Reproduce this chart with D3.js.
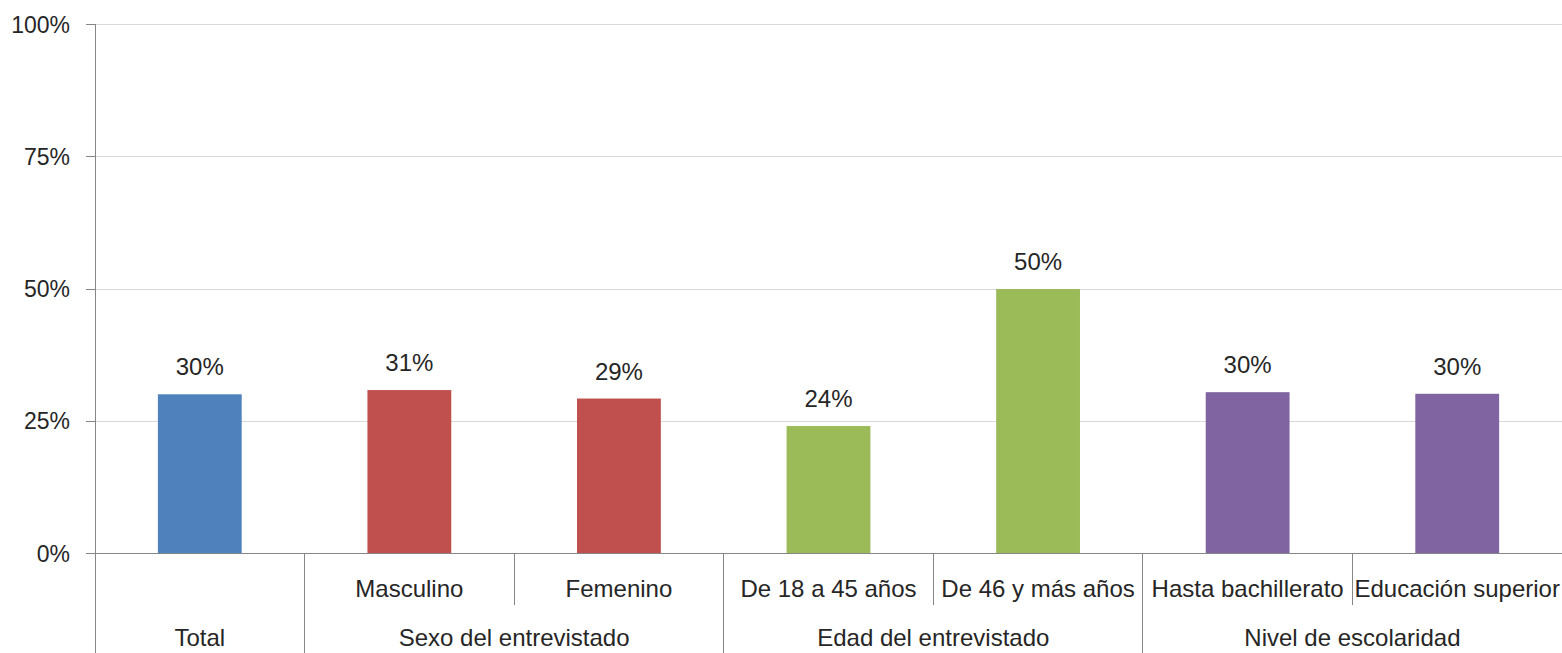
<!DOCTYPE html>
<html lang="es">
<head>
  <meta charset="UTF-8">
  <title>Gráfico de barras por grupo</title>
  <style>
    body { margin: 0; background: #fff; }
    svg text { font-family: "Liberation Sans", Arial, sans-serif; fill: #262626; }
    .axis path { display: none; }
    .axis line { stroke: #868686; shape-rendering: crispEdges; }
    .axis text { font-size: 23px; }
    .grid line { stroke: #d9d9d9; shape-rendering: crispEdges; }
    .grid path { display: none; }
    .sep { stroke: #868686; shape-rendering: crispEdges; }
    .lbl { font-size: 24px; text-anchor: middle; }
  </style>
</head>
<body>
  <div id="chart"></div>
  <script src="https://d3js.org/d3.v7.min.js"></script>
  <script>
    // datos
    var categories = ['Total', 'Masculino', 'Femenino', 'De 18 a 45 años', 'De 46 y más años', 'Hasta bachillerato', 'Educación superior']
    var subLabels = ['', 'Masculino', 'Femenino', 'De 18 a 45 años', 'De 46 y más años', 'Hasta bachillerato', 'Educación superior']
    var values = [0.300, 0.308, 0.292, 0.240, 0.499, 0.304, 0.301]
    var valueLabels = ['30%', '31%', '29%', '24%', '50%', '30%', '30%']
    var groups = ['Total', 'Sexo del entrevistado', 'Edad del entrevistado', 'Nivel de escolaridad']
    var groupSizes = [1, 2, 2, 2]
    var groupColors = ['#4f81bd', '#c0504d', '#9bbb59', '#8064a2']
    var yTicks = [0, 0.25, 0.5, 0.75, 1]

    var width = 1562
    var height = 653
    var plot = {left: 95, right: 1562, top: 24, bottom: 553}

    // a qué grupo pertenece cada categoría
    var groupIndex = []
    groupSizes.forEach(function (n, g) {
      for (var k = 0; k < n; k++) groupIndex.push(g)
    })

    var svg = d3.select('#chart').append('svg')
      .attr('width', width)
      .attr('height', height)

    var x = d3.scaleBand()
      .domain(categories)
      .range([plot.left, plot.right])
      .paddingInner(0.6)
      .paddingOuter(0.3)
    var xEdge = d3.scaleLinear()
      .domain([0, categories.length])
      .range([plot.left, plot.right])
    var y = d3.scaleLinear()
      .domain([0, 1])
      .range([plot.bottom, plot.top])

    // líneas de cuadrícula
    svg.append('g')
      .attr('class', 'grid')
      .attr('transform', 'translate(' + plot.left + ',0)')
      .call(d3.axisLeft(y).tickValues(yTicks).tickSize(-(plot.right - plot.left)).tickFormat(''))

    // barras
    svg.selectAll('.bar')
      .data(values)
      .enter()
      .append('rect')
      .attr('class', 'bar')
      .attr('x', function (d, i) { return x(categories[i]) })
      .attr('width', x.bandwidth())
      .attr('y', function (d) { return y(d) })
      .attr('height', function (d) { return y(0) - y(d) })
      .attr('fill', function (d, i) { return groupColors[groupIndex[i]] })

    // etiquetas de valor
    svg.selectAll('.val')
      .data(values)
      .enter()
      .append('text')
      .attr('class', 'lbl')
      .attr('x', function (d, i) { return x(categories[i]) + x.bandwidth() / 2 })
      .attr('y', function (d) { return y(d) - 19 })
      .text(function (d, i) { return valueLabels[i] })

    // eje y
    var yAxis = svg.append('g')
      .attr('class', 'axis')
      .attr('transform', 'translate(' + plot.left + ',0)')
      .call(d3.axisLeft(y).tickValues(yTicks).tickSize(9).tickPadding(16).tickFormat(d3.format('.0%')))
    yAxis.selectAll('text').attr('dy', '0.35em')

    // línea del eje vertical y del cero
    svg.append('line').attr('class', 'sep')
      .attr('x1', plot.left).attr('x2', plot.left)
      .attr('y1', plot.top).attr('y2', height)
    svg.append('line').attr('class', 'sep')
      .attr('x1', plot.left).attr('x2', plot.right)
      .attr('y1', y(0)).attr('y2', y(0))

    // separadores de categorías
    var start = 0
    var groupStarts = []
    groupSizes.forEach(function (n) { groupStarts.push(start); start += n })
    categories.forEach(function (c, i) {
      if (i === 0) return
      var isGroupEdge = groupStarts.indexOf(i) >= 0
      svg.append('line').attr('class', 'sep')
        .attr('x1', xEdge(i)).attr('x2', xEdge(i))
        .attr('y1', y(0)).attr('y2', isGroupEdge ? height : 605)
    })

    // etiquetas de subcategoría
    svg.selectAll('.sub')
      .data(subLabels)
      .enter()
      .append('text')
      .attr('class', 'lbl')
      .attr('x', function (d, i) { return x(categories[i]) + x.bandwidth() / 2 })
      .attr('y', 597)
      .text(function (d) { return d })

    // etiquetas de grupo
    svg.selectAll('.grp')
      .data(groups)
      .enter()
      .append('text')
      .attr('class', 'lbl')
      .attr('x', function (d, g) { return (xEdge(groupStarts[g]) + xEdge(groupStarts[g] + groupSizes[g])) / 2 })
      .attr('y', 646)
      .text(function (d) { return d })
  </script>
</body>
</html>
